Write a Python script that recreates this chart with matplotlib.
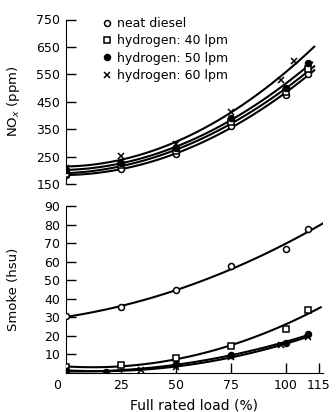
import numpy as np
import matplotlib
matplotlib.use("Agg")
import matplotlib.pyplot as plt
from matplotlib.transforms import ScaledTranslation

# ---- data ----
labels = ["neat diesel", "hydrogen: 40 lpm", "hydrogen: 50 lpm", "hydrogen: 60 lpm"]

nox_load_neat = [0, 25, 50, 75, 100, 110]
nox_neat = [183, 204, 258, 362, 474, 550]
nox_load_h40 = [0, 25, 50, 75, 100, 110]
nox_h40 = [188, 218, 272, 375, 486, 568]
nox_load_h50 = [0, 25, 50, 75, 100, 110]
nox_h50 = [200, 228, 283, 390, 500, 590]
nox_load_h60 = [0, 25, 50, 75, 98, 104]
nox_h60 = [208, 252, 296, 412, 528, 600]

smoke_load_neat = [0, 25, 50, 75, 100, 110]
smoke_neat = [30.5, 35.5, 44.5, 57.5, 67, 77.5]
smoke_load_h40 = [0, 25, 50, 75, 100, 110]
smoke_h40 = [3, 4.3, 8, 14.7, 23.5, 34]
smoke_load_h50 = [0, 18, 50, 75, 100, 110]
smoke_h50 = [1, 0.7, 5, 9.5, 16, 21]
smoke_load_h60 = [0, 34, 50, 75, 98, 110]
smoke_h60 = [1.5, 1.6, 3.5, 8.5, 15, 19.5]

nox_ticks = [150, 250, 350, 450, 550, 650, 750]
smoke_ticks = [10, 20, 30, 40, 50, 60, 70, 80, 90]
x_ticks = [0, 25, 50, 75, 100, 115]

plt.rcParams['font.family'] = ['DejaVu Sans']
fig = plt.figure(figsize=(3.36, 4.12), dpi=100)

W, H = 336, 412
left = 66 / W
width = 257 / W
ax1 = fig.add_axes([left, 1 - 184 / H, width, (184 - 19.5) / H])
ax2 = fig.add_axes([left, 1 - 373 / H, width, (373 - 206) / H])

markers = [dict(marker='o', mfc='white'), dict(marker='s', mfc='white'),
           dict(marker='o', mfc='black'), dict(marker='x', mfc='black')]

def draw(ax, series, ends):
    handles = []
    for (x, y), m, lab, (x0, x1) in zip(series, markers, labels, ends):
        c = np.polyfit(x, y, 2)
        xs = np.linspace(x0, x1, 100)
        ax.plot(xs, np.polyval(c, xs), color='black', lw=1.5, zorder=2)
        h, = ax.plot(x, y, linestyle='none', color='black', markersize=4.3,
                     mew=1.1, label=lab, zorder=3, **m)
        handles.append(h)
    return handles

h = draw(ax1, [(nox_load_neat, nox_neat), (nox_load_h40, nox_h40),
               (nox_load_h50, nox_h50), (nox_load_h60, nox_h60)],
         [(0, 113), (0, 113), (0, 112), (0, 113)])
draw(ax2, [(smoke_load_neat, smoke_neat), (smoke_load_h40, smoke_h40),
           (smoke_load_h50, smoke_h50), (smoke_load_h60, smoke_h60)],
     [(0, 117), (0, 116), (0, 111), (0, 111)])

for ax in (ax1, ax2):
    ax.set_xlim(0, 117)
    ax.spines['top'].set_visible(False)
    ax.spines['right'].set_visible(False)
    ax.tick_params(direction='in', length=7.5, width=1, labelsize=9, pad=4)

ax1.spines['bottom'].set_visible(False)
ax1.set_ylim(150, 750)
ax1.set_yticks(nox_ticks)
ax1.set_xticks([])
ax1.set_ylabel('NO$_x$ (ppm)', fontsize=9.5)
ax1.yaxis.set_label_coords(-0.171, 0.5)

ax2.set_ylim(0, 90)
ax2.set_yticks(smoke_ticks)
ax2.set_xticks(x_ticks)
ax2.set_xticklabels([str(t) for t in x_ticks])
ax2.set_ylabel('Smoke (hsu)', fontsize=9.5)
ax2.yaxis.set_label_coords(-0.18, 0.5)
ax2.set_xlabel('Full rated load (%)', fontsize=10, labelpad=5)

# origin label sits slightly left of the axis in the reference
lbl0 = ax2.get_xticklabels()[0]
lbl0.set_transform(lbl0.get_transform() + ScaledTranslation(-9 / 100, 0, fig.dpi_scale_trans))

fig.legend(handles=h, loc='upper left', bbox_to_anchor=(102 / W, 1 - 17 / H),
           bbox_transform=fig.transFigure, frameon=False, fontsize=9,
           handlelength=0.8, handletextpad=0.4, labelspacing=0.35,
           borderpad=0, borderaxespad=0)

fig.savefig('out.png', dpi=100)
